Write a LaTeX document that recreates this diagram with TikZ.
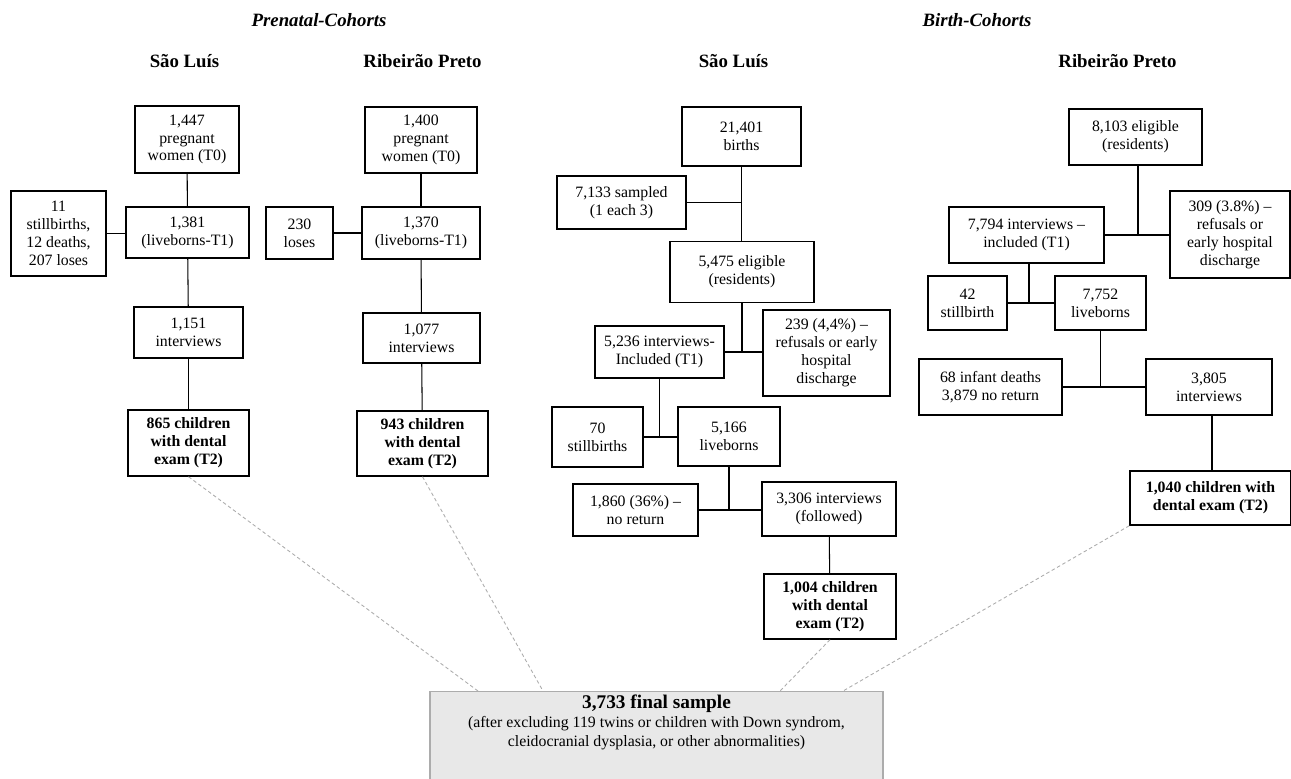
\documentclass[tikz,border=0pt]{standalone}
\usepackage{fontspec}
\setmainfont{Liberation Serif}
\usepackage{tikz}

\begin{document}
\begin{tikzpicture}[x=0.02cm,y=-0.02cm,
   box/.style={draw,line width=0.8pt,align=center,inner sep=1pt,font=\fontsize{9}{10.2}\selectfont},
   exam/.style={box,font=\fontsize{9}{10.2}\selectfont\bfseries},
   sz/.style 2 args={minimum width=#1*0.02cm,minimum height=#2*0.02cm},
   city/.style={font=\fontsize{10.7}{12}\selectfont\bfseries},
   cohort/.style={font=\fontsize{10.7}{12}\selectfont\bfseries\itshape},
   link/.style={line width=0.6pt},
   tofinal/.style={draw=gray!65,dash pattern=on 2pt off 1.5pt,line width=0.5pt}]
   \useasboundingbox (0,0) rectangle (1291,778);

   \draw (319,20) node[cohort] (prenatal) {Prenatal-Cohorts};
   \draw (977,20) node[cohort] (birth) {Birth-Cohorts};
   \draw (184.5,61) node[city] (slp) {São Luís};
   \draw (422.5,61) node[city] (rpp) {Ribeirão Preto};
   \draw (733.5,61) node[city] (slb) {São Luís};
   \draw (1117.5,61) node[city] (rpb) {Ribeirão Preto};

% prenatal, Sao Luis
   \draw (187,139.5) node[box,sz={104}{67}] (sl0) {1,447\\pregnant\\women (T0)};
   \draw (58.5,233.5) node[box,sz={95}{85}] (slloss) {11\\stillbirths,\\12 deaths,\\207 loses};
   \draw (187.5,232.5) node[box,sz={123}{51}] (sl1) {1,381\\(liveborns-T1)};
   \draw (188.5,332.5) node[box,sz={109}{51}] (sl2) {1,151\\interviews};
   \draw (188.5,443) node[exam,sz={121}{66}] (sl3) {865 children\\with dental\\exam (T2)};
       \path[-,link] (sl0) edge (sl1);
       \path[-,link] (sl1) edge (sl2);
       \path[-,link] (sl2) edge (sl3);
       \draw[link] (slloss.east) -- (slloss.east -| sl1.west);

% prenatal, Ribeirao Preto
   \draw (421,140) node[box,sz={112}{66}] (rp0) {1,400\\pregnant\\women (T0)};
   \draw (299.5,233) node[box,sz={67}{52}] (rploss) {230\\loses};
   \draw (421,233) node[box,sz={118}{52}] (rp1) {1,370\\(liveborns-T1)};
   \draw (421.5,338) node[box,sz={117}{50}] (rp2) {1,077\\interviews};
   \draw (422.5,443.5) node[exam,sz={131}{65}] (rp3) {943 children\\with dental\\exam (T2)};
       \path[-,link] (rp0) edge (rp1);
       \path[-,link] (rp1) edge (rp2);
       \path[-,link] (rp2) edge (rp3);
       \path[-,link] (rploss) edge (rp1);

% birth, Sao Luis
   \draw (741.5,136.5) node[box,sz={119}{59}] (bsl0) {21,401\\births};
   \draw (621.5,202.5) node[box,sz={129}{53}] (bslsamp) {7,133 sampled\\(1 each 3)};
   \draw (742,272) node[box,sz={144}{61}] (bslelig) {5,475 eligible\\(residents)};
   \draw (826.5,353) node[box,sz={127}{86}] (bslref) {239 (4,4\%) --\\refusals or early\\hospital\\discharge};
   \draw (659.5,352) node[box,sz={129}{52}] (bslincl) {5,236 interviews-\\Included (T1)};
   \draw (597.5,437) node[box,sz={91}{60}] (bslstill) {70\\stillbirths};
   \draw (729,436.5) node[box,sz={102}{59}] (bsllive) {5,166\\liveborns};
   \draw (635.5,510) node[box,sz={125}{52}] (bslnoret) {1,860 (36\%) --\\no return};
   \draw (829,509) node[box,sz={134}{54}] (bslfol) {3,306 interviews\\(followed)};
   \draw (830,606.5) node[exam,sz={132}{65}] (bslexam) {1,004 children\\with dental\\exam (T2)};
       \draw[link] (bsl0.south) -- (bsl0.south |- bslelig.north);
       \draw[link] (bslsamp.east) -- (bslsamp.east -| bsl0.south);
       \draw[link] (bslelig.south) -- (bslelig.south |- bslincl.east);
       \draw[link] (bslincl.east) -- (bslincl.east -| bslref.west);
       \draw[link] (bslincl.south) -- (bslincl.south |- bslstill.east);
       \draw[link] (bslstill.east) -- (bslstill.east -| bsllive.west);
       \draw[link] (bsllive.south) -- (bsllive.south |- bslfol.west);
       \draw[link] (bslnoret.east) -- (bslnoret.east -| bslfol.west);
       \path[-,link] (bslfol) edge (bslexam);

% birth, Ribeirao Preto
   \draw (1135.5,137) node[box,sz={133}{56}] (brp0) {8,103 eligible\\(residents)};
   \draw (1026.5,235) node[box,sz={155}{56}] (brpincl) {7,794 interviews --\\included (T1)};
   \draw (1230,234.5) node[box,sz={120}{87}] (brpref) {309 (3.8\%) --\\refusals or\\early hospital\\discharge};
   \draw (967.5,303) node[box,sz={79}{54}] (brpstill) {42\\stillbirth};
   \draw (1100.5,303) node[box,sz={91}{54}] (brplive) {7,752\\liveborns};
   \draw (990.5,387) node[box,sz={143}{56}] (brploss) {68 infant deaths\\3,879 no return};
   \draw (1209,387) node[box,sz={126}{56}] (brpint) {3,805\\interviews};
   \draw (1210.5,498) node[exam,sz={161}{54}] (brpexam) {1,040 children with\\dental exam (T2)};
       \draw[link] ([xshift=2.5*0.02cm]brp0.south) -- ([xshift=2.5*0.02cm]brp0.south |- brpincl.east);
       \draw[link] (brpincl.east) -- (brpincl.east -| brpref.west);
       \draw[link] ([xshift=2.5*0.02cm]brpincl.south) -- ([xshift=2.5*0.02cm]brpincl.south |- brpstill.east);
       \draw[link] (brpstill.east) -- (brpstill.east -| brplive.west);
       \draw[link] (brplive.south) -- (brplive.south |- brploss.east);
       \draw[link] (brploss.east) -- (brploss.east -| brpint.west);
       \draw[link] ([xshift=3*0.02cm]brpint.south) -- ([xshift=3*0.02cm]brpint.south |- brpexam.north);

% final sample
   \node[fill=gray!18,draw=gray!65,line width=0.6pt,sz={453}{100},anchor=north] (final) at (656.5,691) {};
   \node[align=center,font=\fontsize{9}{10.8}\selectfont] (finaltxt) at (656.5,722)
      {{\fontsize{11}{13}\selectfont\bfseries 3,733 final sample}\\(after excluding 119 twins or children with Down syndrom,\\cleidocranial dysplasia, or other abnormalities)};
   \coordinate (f1) at (478,691);
   \coordinate (f2) at (543,691);
   \coordinate (f3) at (780,691);
   \coordinate (f4) at (843,691);
       \draw[tofinal] (sl3.south) -- (f1);
       \draw[tofinal] (rp3.south) -- (f2);
       \draw[tofinal] (bslexam.south) -- (f3);
       \draw[tofinal] (brpexam.south west) -- (f4);
\end{tikzpicture}
\end{document}
